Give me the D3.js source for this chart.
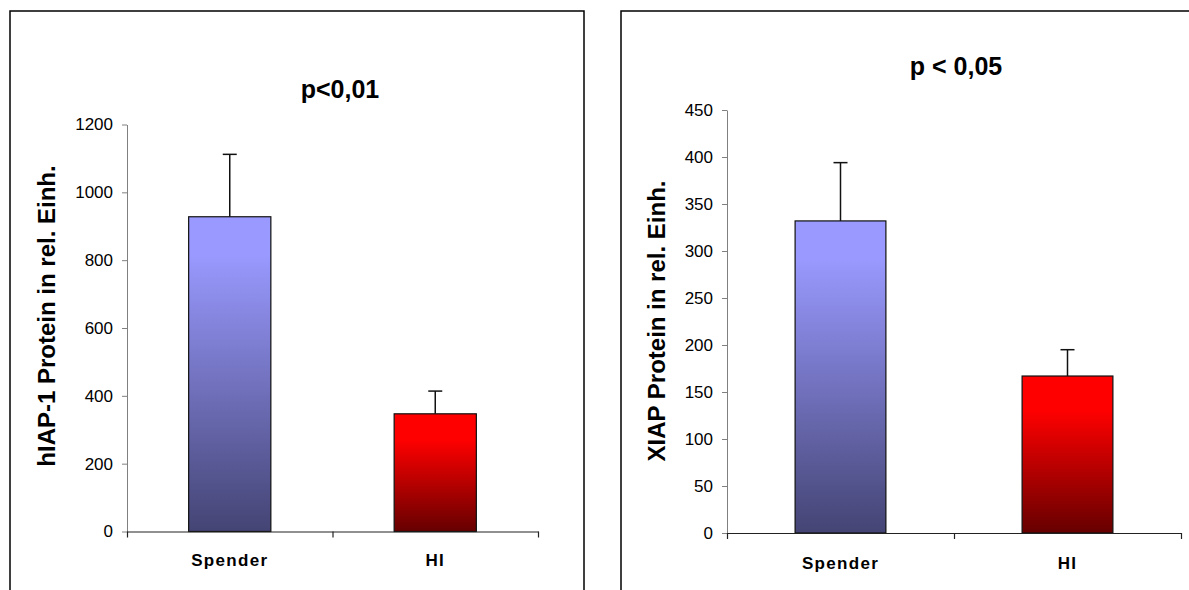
<!DOCTYPE html>
<html>
<head>
<meta charset="utf-8">
<script src="https://cdn.jsdelivr.net/npm/d3@7"></script>
<style>
  body { margin: 0; background: #fff; }
  svg { display: block; font-family: Arial, "Liberation Sans", sans-serif; }
  .tick text { font-size: 17px; fill: #000; }
</style>
</head>
<body>
<svg id="chart" width="1189" height="590"></svg>
<script>
"use strict";

// values
const categories = ["Spender", "HI"];
const hiapValues = [928, 347];
const hiapErrors = [184, 67];
const xiapValues = [332, 167];
const xiapErrors = [62, 28];
const hiapTicks = [0, 200, 400, 600, 800, 1000, 1200];
const xiapTicks = [0, 50, 100, 150, 200, 250, 300, 350, 400, 450];
const titles = ["p<0,01", "p < 0,05"];
const yLabels = ["hIAP-1 Protein in rel. Einh.", "XIAP Protein in rel. Einh."];

const svg = d3.select("#chart");

// gradients for the two bars
let defs = svg.append("defs");
function addGradient(id, stops) {
  let g = defs.append("linearGradient").attr("id", id)
    .attr("x1", 0).attr("y1", 0).attr("x2", 0).attr("y2", 1);
  stops.forEach(s => g.append("stop").attr("offset", s[0]).attr("stop-color", s[1]));
}
addGradient("grad-blue", [[0, "#9999ff"], [0.12, "#9999ff"], [1, "#444474"]]);
addGradient("grad-red", [[0, "#ff0000"], [0.22, "#ff0000"], [1, "#660000"]]);
const fills = ["url(#grad-blue)", "url(#grad-red)"];

// panel frames
svg.append("rect").attr("x", 10).attr("y", 11).attr("width", 574).attr("height", 600)
  .style("fill", "none").style("stroke", "#000").style("stroke-width", 1.5);
svg.append("rect").attr("x", 621).attr("y", 11).attr("width", 600).attr("height", 600)
  .style("fill", "none").style("stroke", "#000").style("stroke-width", 1.5);

let panels = [
  { values: hiapValues, errors: hiapErrors, ticks: hiapTicks, title: titles[0], label: yLabels[0],
    left: 127, right: 538, bottom: 531.5, top: 124.5, titleX: 340, titleY: 98, labelX: 47, labelY: 316, catY: 566 },
  { values: xiapValues, errors: xiapErrors, ticks: xiapTicks, title: titles[1], label: yLabels[1],
    left: 727, right: 1181, bottom: 533, top: 110, titleX: 956, titleY: 75, labelX: 657, labelY: 321, catY: 569 }
];

panels.forEach(p => drawPanel(p));

function drawPanel(p) {
  let g = svg.append("g");
  let xScale = d3.scaleBand().domain(categories).range([p.left, p.right])
    .paddingInner(0.6).paddingOuter(0.3);
  let yScale = d3.scaleLinear().domain([p.ticks[0], p.ticks[p.ticks.length - 1]])
    .range([p.bottom, p.top]);

  // bars
  g.selectAll(".bar").data(categories).enter().append("rect").classed("bar", true)
    .attr("x", d => xScale(d)).attr("width", xScale.bandwidth())
    .attr("y", (d, i) => yScale(p.values[i]))
    .attr("height", (d, i) => yScale(0) - yScale(p.values[i]))
    .style("fill", (d, i) => fills[i]).style("stroke", "#111").style("stroke-width", 1.2);

  // error bars (upper only)
  categories.forEach((c, i) => {
    let cx = xScale(c) + xScale.bandwidth() / 2;
    let yTop = yScale(p.values[i] + p.errors[i]);
    g.append("line").attr("x1", cx).attr("x2", cx)
      .attr("y1", yScale(p.values[i])).attr("y2", yTop)
      .style("stroke", "#111").style("stroke-width", 1.5);
    g.append("line").attr("x1", cx - 7).attr("x2", cx + 7)
      .attr("y1", yTop).attr("y2", yTop)
      .style("stroke", "#111").style("stroke-width", 1.5);
  });

  // y axis
  let yAxis = d3.axisLeft(yScale).tickValues(p.ticks).tickFormat(d3.format("d"))
    .tickSize(5).tickSizeOuter(0).tickPadding(9);
  let ya = g.append("g").attr("transform", `translate(${p.left},0)`).call(yAxis);
  ya.select(".domain").style("stroke", "#808080");
  ya.selectAll(".tick line").style("stroke", "#808080");

  // x axis: ticks at band boundaries, no labels
  let edges = d3.scaleLinear().domain([0, categories.length]).range([p.left, p.right]);
  let xAxis = d3.axisBottom(edges).tickValues(d3.range(categories.length + 1))
    .tickFormat(() => "").tickSize(6).tickSizeOuter(0);
  let xa = g.append("g").attr("transform", `translate(0,${p.bottom})`).call(xAxis);
  xa.select(".domain").style("stroke", "#222").style("stroke-width", 1.2);
  xa.selectAll(".tick line").style("stroke", "#222").style("stroke-width", 1.2);

  // category labels
  g.selectAll(".cat").data(categories).enter().append("text").classed("cat", true)
    .attr("x", d => xScale(d) + xScale.bandwidth() / 2).attr("y", p.catY)
    .attr("text-anchor", "middle").style("font-size", "17px").style("font-weight", "bold")
    .style("letter-spacing", "1.3px").text(d => d);

  // title
  g.append("text").attr("x", p.titleX).attr("y", p.titleY).attr("text-anchor", "middle")
    .style("font-size", "25px").style("font-weight", "bold").text(p.title);

  // y label
  g.append("text").attr("transform", `translate(${p.labelX},${p.labelY}) rotate(-90)`)
    .attr("text-anchor", "middle").attr("dy", "0.35em")
    .style("font-size", "24px").style("font-weight", "bold").text(p.label);
}
</script>
</body>
</html>
